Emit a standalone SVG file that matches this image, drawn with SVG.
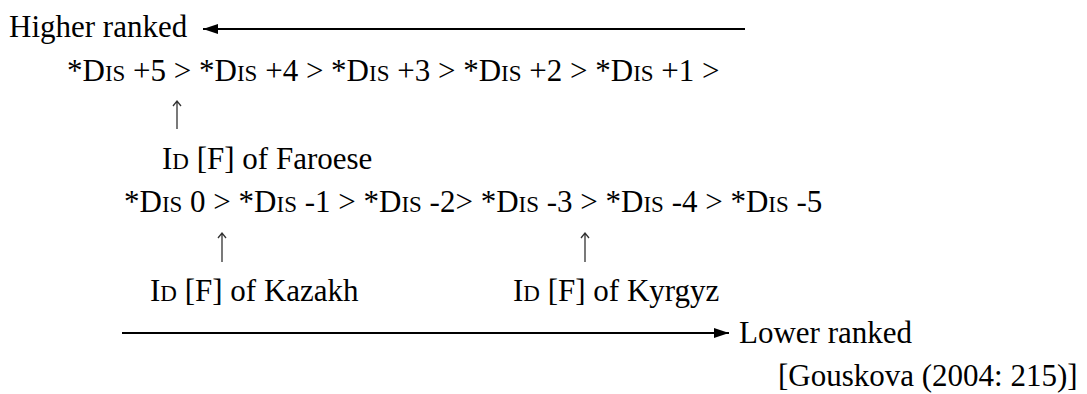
<svg xmlns="http://www.w3.org/2000/svg" width="1087" height="394" viewBox="0 0 1087 394">
  <style>
    text { font-family: "Liberation Serif", "Times New Roman", serif; font-size: 31px; fill: #000; }
    .sc { font-size: 23px; }
    .rank { stroke: #000; stroke-width: 2; fill: none; }
    .up { stroke: #333; stroke-width: 1.3; fill: none; }
  </style>
  <defs>
    <marker id="head" viewBox="0 0 10 10" refX="10" refY="5" markerWidth="15" markerHeight="10" markerUnits="userSpaceOnUse" orient="auto" preserveAspectRatio="none">
      <path d="M0,0 L10,5 L0,10 Z" fill="#000"/>
    </marker>
  </defs>
  <rect width="1087" height="394" fill="#fff"/>

  <g id="connectors">
    <!-- ranking direction arrows -->
    <line class="rank" x1="745" y1="29" x2="203" y2="29" marker-end="url(#head)"/>
    <line class="rank" x1="122" y1="333" x2="729" y2="333" marker-end="url(#head)"/>
    <!-- pointers to the Ident positions -->
    <path class="up" d="M177,129 V101 M173,106 L177,101 L181,106"/>
    <path class="up" d="M222,262 V233 M218,238 L222,233 L226,238"/>
    <path class="up" d="M585,262 V233 M581,238 L585,233 L589,238"/>
  </g>

  <g id="higher-ranked">
    <text x="9" y="37">Higher ranked</text>
  </g>

  <g id="dis-positive">
    <text x="67" y="81">*D<tspan class="sc">IS</tspan> +5 &gt; *D<tspan class="sc">IS</tspan> +4 &gt; *D<tspan class="sc">IS</tspan> +3 &gt; *D<tspan class="sc">IS</tspan> +2 &gt; *D<tspan class="sc">IS</tspan> +1 &gt;</text>
  </g>

  <g id="ident-faroese">
    <text x="162" y="169">I<tspan class="sc">D</tspan> [F] of Faroese</text>
  </g>

  <g id="dis-negative">
    <text x="124" y="212">*D<tspan class="sc">IS</tspan> 0 &gt; *D<tspan class="sc">IS</tspan> -1 &gt; *D<tspan class="sc">IS</tspan> -2&gt; *D<tspan class="sc">IS</tspan> -3 &gt; *D<tspan class="sc">IS</tspan> -4 &gt; *D<tspan class="sc">IS</tspan> -5</text>
  </g>

  <g id="ident-kazakh">
    <text x="150" y="301">I<tspan class="sc">D</tspan> [F] of Kazakh</text>
  </g>

  <g id="ident-kyrgyz">
    <text x="513" y="301">I<tspan class="sc">D</tspan> [F] of Kyrgyz</text>
  </g>

  <g id="lower-ranked">
    <text x="739" y="343">Lower ranked</text>
  </g>

  <g id="source">
    <text x="778" y="386">[Gouskova (2004: 215)]</text>
  </g>
</svg>
